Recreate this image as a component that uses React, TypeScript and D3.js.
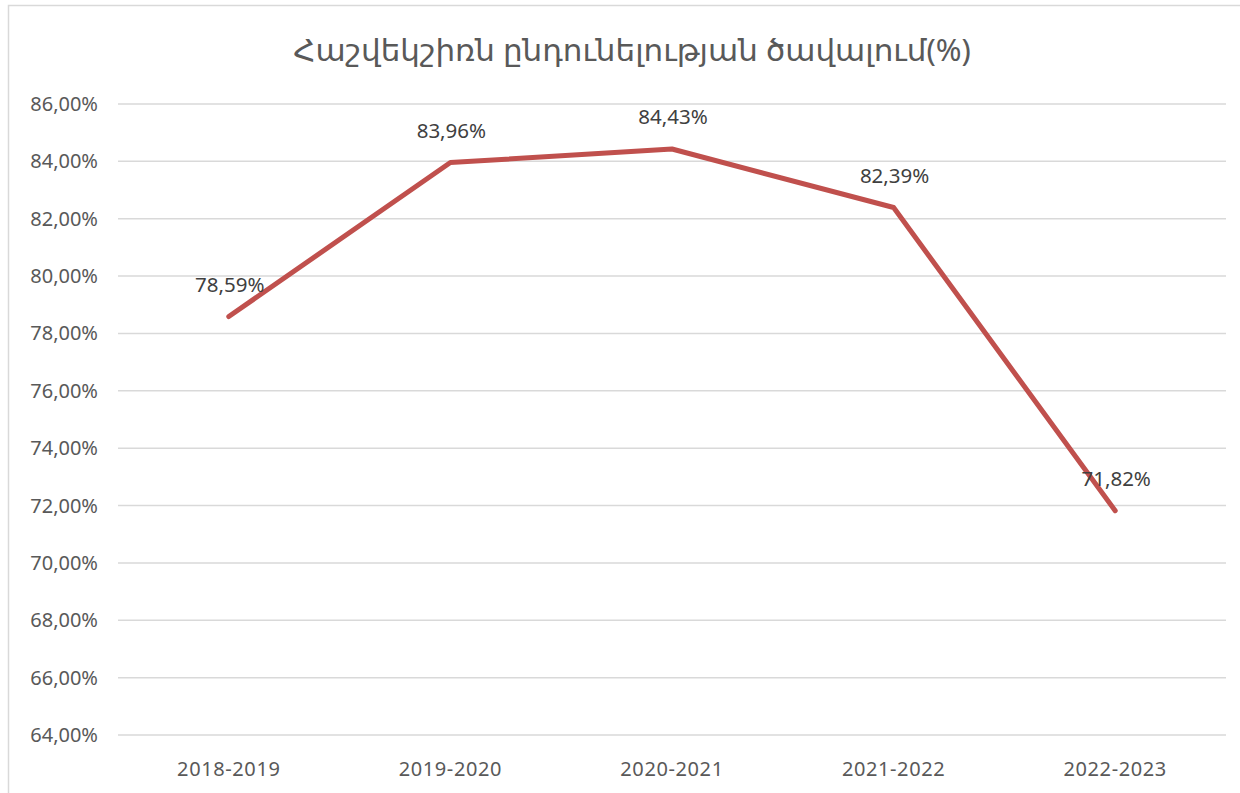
import React, { useEffect, useRef } from 'react';
import * as d3 from 'd3';

const title = 'Հաշվեկշիռն ընդունելության ծավալում(%)';
const years = ['2018-2019', '2019-2020', '2020-2021', '2021-2022', '2022-2023'];
const values = [78.59, 83.96, 84.43, 82.39, 71.82];
const yTicks = [64, 66, 68, 70, 72, 74, 76, 78, 80, 82, 84, 86];

const fmt = (v: number, digits: number) => v.toFixed(digits).replace('.', ',') + '%';

function App() {
  const svgRef = useRef<SVGSVGElement>(null);

  useEffect(() => {
    const width = 1240;
    const height = 793;
    const margin = { top: 104, right: 14, bottom: 58, left: 118 };
    const innerWidth = width - margin.left - margin.right;
    const innerHeight = height - margin.top - margin.bottom;
    const font = '"Noto Sans", "DejaVu Sans", sans-serif';

    const svg = d3.select(svgRef.current)
      .attr('width', width)
      .attr('height', height);
    svg.selectAll('*').remove();

    svg.append('rect')
      .attr('width', width)
      .attr('height', height)
      .attr('fill', '#fff');

    // chart frame
    svg.append('rect')
      .attr('x', 8.5)
      .attr('y', 5.5)
      .attr('width', width)
      .attr('height', height)
      .attr('fill', 'none')
      .attr('stroke', '#d9d9d9')
      .attr('stroke-width', 1.5);

    svg.append('text')
      .attr('x', 632)
      .attr('y', 61)
      .attr('text-anchor', 'middle')
      .attr('fill', '#595959')
      .attr('font-family', font)
      .attr('font-size', '31px')
      .text(title);

    const g = svg.append('g')
      .attr('transform', `translate(${margin.left},${margin.top})`);

    const x = d3.scaleBand<string>()
      .domain(years)
      .range([0, innerWidth]);

    const y = d3.scaleLinear()
      .domain([64, 86])
      .range([innerHeight, 0]);

    // gridlines
    g.selectAll('.grid')
      .data(yTicks)
      .enter()
      .append('line')
      .attr('x1', 0)
      .attr('x2', innerWidth)
      .attr('y1', d => y(d))
      .attr('y2', d => y(d))
      .attr('stroke', '#d9d9d9')
      .attr('stroke-width', 1.5);

    // y tick labels
    g.selectAll('.ytick')
      .data(yTicks)
      .enter()
      .append('text')
      .attr('x', -20)
      .attr('y', d => y(d))
      .attr('dy', '0.35em')
      .attr('text-anchor', 'end')
      .attr('fill', '#595959')
      .attr('font-family', font)
      .attr('font-size', '20px')
      .text(d => fmt(d, 2));

    // x tick labels
    g.selectAll('.xtick')
      .data(years)
      .enter()
      .append('text')
      .attr('x', d => (x(d) as number) + x.bandwidth() / 2)
      .attr('y', innerHeight + 41)
      .attr('text-anchor', 'middle')
      .attr('fill', '#595959')
      .attr('font-family', font)
      .attr('font-size', '20px')
      .attr('letter-spacing', '0.6px')
      .text(d => d);

    const pts = years.map((yr, i) => ({ yr, v: values[i] }));

    const line = d3.line<{ yr: string; v: number }>()
      .x(d => (x(d.yr) as number) + x.bandwidth() / 2)
      .y(d => y(d.v));

    g.append('path')
      .datum(pts)
      .attr('fill', 'none')
      .attr('stroke', '#c0504d')
      .attr('stroke-width', 5)
      .attr('stroke-linecap', 'round')
      .attr('stroke-linejoin', 'round')
      .attr('d', line);

    // data labels
    g.selectAll('.lbl')
      .data(pts)
      .enter()
      .append('text')
      .attr('x', d => (x(d.yr) as number) + x.bandwidth() / 2 + 1)
      .attr('y', d => y(d.v) - 32)
      .attr('dy', '0.35em')
      .attr('text-anchor', 'middle')
      .attr('fill', '#404040')
      .attr('font-family', font)
      .attr('font-size', '20.5px')
      .text(d => fmt(d.v, 2));
  }, []);

  return (
    <svg
      ref={svgRef}
      style={{ position: 'absolute', left: 0, top: 0, display: 'block' }}
    ></svg>
  );
}

export default App;
